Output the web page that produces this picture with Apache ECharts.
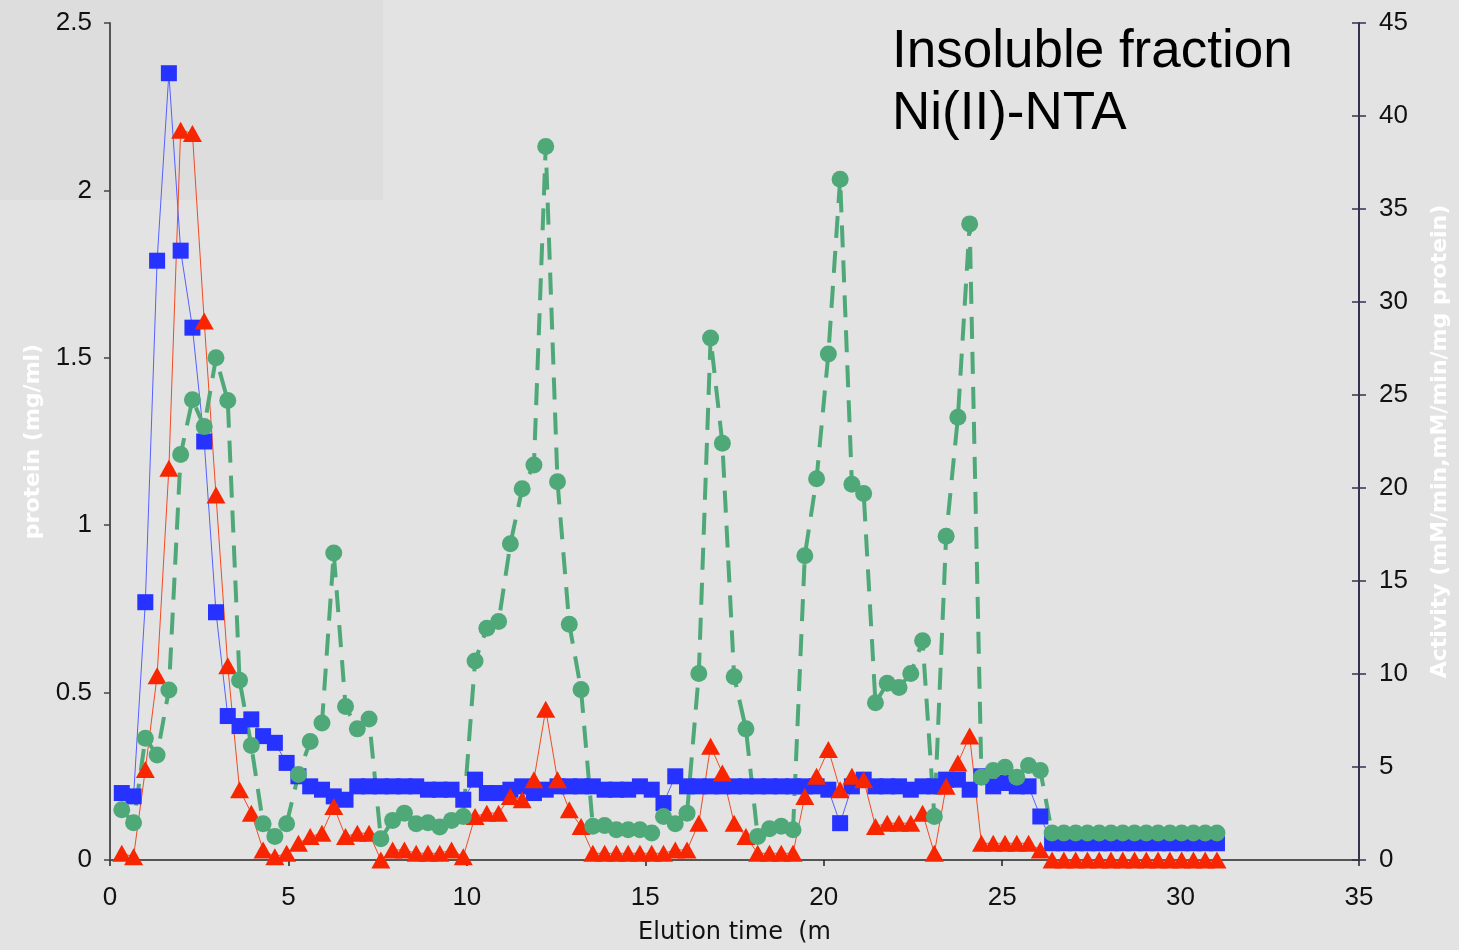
<!DOCTYPE html>
<html>
<head>
<meta charset="utf-8">
<script src="https://cdn.jsdelivr.net/npm/echarts@6/dist/echarts.min.js"></script>
<style>
  html, body { margin: 0; padding: 0; background: #e3e3e3; }
  #chart { width: 1459px; height: 950px; }
</style>
</head>
<body>
<div id="chart"></div>
<script>
// Elution time of each collected fraction (min)
const elutionTime = [
  0.33, 0.66, 0.99, 1.32, 1.65, 1.98, 2.31, 2.64, 2.97, 3.30,
  3.63, 3.96, 4.29, 4.62, 4.95, 5.28, 5.61, 5.94, 6.27, 6.60,
  6.93, 7.26, 7.59, 7.92, 8.25, 8.58, 8.91, 9.24, 9.57, 9.90,
  10.23, 10.56, 10.89, 11.22, 11.55, 11.88, 12.21, 12.54, 12.87, 13.20,
  13.53, 13.86, 14.19, 14.52, 14.85, 15.18, 15.51, 15.84, 16.17, 16.50,
  16.83, 17.16, 17.49, 17.82, 18.15, 18.48, 18.81, 19.14, 19.47, 19.80,
  20.13, 20.46, 20.79, 21.12, 21.45, 21.78, 22.11, 22.44, 22.77, 23.10,
  23.43, 23.76, 24.09, 24.42, 24.75, 25.08, 25.41, 25.74, 26.07, 26.40,
  26.73, 27.06, 27.39, 27.72, 28.05, 28.38, 28.71, 29.04, 29.37, 29.70,
  30.03, 30.36, 30.69, 31.02
];

// Protein, first assay (mg/ml) - blue squares
const proteinA = [
  0.20, 0.19, 0.77, 1.79, 2.35, 1.82, 1.59, 1.25, 0.74, 0.43,
  0.40, 0.42, 0.37, 0.35, 0.29, 0.25, 0.22, 0.21, 0.19, 0.18,
  0.22, 0.22, 0.22, 0.22, 0.22, 0.22, 0.21, 0.21, 0.21, 0.18,
  0.24, 0.20, 0.20, 0.21, 0.22, 0.20, 0.21, 0.22, 0.22, 0.22,
  0.22, 0.21, 0.21, 0.21, 0.22, 0.21, 0.17, 0.25, 0.22, 0.22,
  0.22, 0.22, 0.22, 0.22, 0.22, 0.22, 0.22, 0.22, 0.22, 0.22,
  0.21, 0.11, 0.22, 0.24, 0.22, 0.22, 0.22, 0.21, 0.22, 0.22,
  0.24, 0.24, 0.21, 0.25, 0.22, 0.23, 0.22, 0.22, 0.13, 0.05,
  0.05, 0.05, 0.05, 0.05, 0.05, 0.05, 0.05, 0.05, 0.05, 0.05,
  0.05, 0.05, 0.05, 0.05
];

// Protein, second assay (mg/ml) - red triangles
const proteinB = [
  0.02, 0.01, 0.27, 0.55, 1.17, 2.18, 2.17, 1.61, 1.09, 0.58,
  0.21, 0.14, 0.03, 0.01, 0.02, 0.05, 0.07, 0.08, 0.16, 0.07,
  0.08, 0.08, 0.00, 0.03, 0.03, 0.02, 0.02, 0.02, 0.03, 0.01,
  0.13, 0.14, 0.14, 0.19, 0.18, 0.24, 0.45, 0.24, 0.15, 0.10,
  0.02, 0.02, 0.02, 0.02, 0.02, 0.02, 0.02, 0.03, 0.03, 0.11,
  0.34, 0.26, 0.11, 0.07, 0.02, 0.02, 0.02, 0.02, 0.19, 0.25,
  0.33, 0.21, 0.25, 0.24, 0.10, 0.11, 0.11, 0.11, 0.14, 0.02,
  0.22, 0.29, 0.37, 0.05, 0.05, 0.05, 0.05, 0.05, 0.03, 0.00,
  0.00, 0.00, 0.00, 0.00, 0.00, 0.00, 0.00, 0.00, 0.00, 0.00,
  0.00, 0.00, 0.00, 0.00
];

// Enzyme activity (mM/min) - green circles, right axis
const activity = [
  2.70, 2.00, 6.55, 5.65, 9.14, 21.8, 24.75, 23.3, 27.0, 24.7,
  9.67, 6.15, 1.95, 1.27, 1.95, 4.60, 6.37, 7.37, 16.5, 8.25,
  7.05, 7.58, 1.14, 2.13, 2.52, 1.95, 2.00, 1.77, 2.13, 2.34,
  10.7, 12.46, 12.82, 17.0, 19.96, 21.24, 38.36, 20.33, 12.68, 9.16,
  1.81, 1.86, 1.63, 1.63, 1.63, 1.45, 2.34, 1.95, 2.52, 10.03,
  28.06, 22.4, 9.85, 7.05, 1.27, 1.68, 1.81, 1.63, 16.36, 20.5,
  27.2, 36.6, 20.2, 19.7, 8.45, 9.5, 9.28, 10.03, 11.79, 2.34,
  17.4, 23.8, 34.2, 4.45, 4.81, 4.99, 4.45, 5.08, 4.81, 1.45,
  1.45, 1.45, 1.45, 1.45, 1.45, 1.45, 1.45, 1.45, 1.45, 1.45,
  1.45, 1.45, 1.45, 1.45
];

const titleLines = ['Insoluble fraction', 'Ni(II)-NTA'];
const xAxisName = 'Elution time  (m';
const leftAxisName = 'protein (mg/ml)';
const rightAxisName = 'Activity (mM/min,mM/min/mg protein)';

const pairs = (ys) => elutionTime.map((t, i) => [t, ys[i]]);

const tickFont = { fontFamily: 'Liberation Sans', fontSize: 26, color: '#111' };
const nameFont = { fontFamily: 'DejaVu Sans', fontWeight: 'bold', fontSize: 22, color: '#ffffff' };

const chart = echarts.init(document.getElementById('chart'), null, { renderer: 'canvas' });

chart.setOption({
  animation: false,
  backgroundColor: '#e3e3e3',
  title: {
    text: titleLines.join('\n'),
    left: 887,
    top: 16,
    textStyle: { fontFamily: 'Liberation Sans', fontWeight: 'normal', fontSize: 53, lineHeight: 62, color: '#000' }
  },
  graphic: [{
    type: 'rect',
    z: -100,
    silent: true,
    shape: { x: 0, y: 0, width: 383, height: 200 },
    style: { fill: '#dddddd' }
  }],
  grid: { left: 110, right: 97, top: 23, bottom: 87, containLabel: false },
  xAxis: {
    type: 'value',
    min: 0, max: 35, interval: 5,
    name: xAxisName,
    nameLocation: 'middle',
    nameGap: 61,
    nameTextStyle: { fontFamily: 'DejaVu Sans', fontSize: 24, color: '#111' },
    axisLine: { lineStyle: { color: '#555', width: 2 } },
    axisTick: { length: 6, lineStyle: { color: '#222', width: 1.5 } },
    axisLabel: Object.assign({ margin: 25 }, tickFont),
    splitLine: { show: false }
  },
  yAxis: [
    {
      type: 'value',
      position: 'left',
      min: 0, max: 2.5, interval: 0.5,
      name: leftAxisName,
      nameLocation: 'middle',
      nameRotate: 90,
      nameGap: 66,
      nameTextStyle: nameFont,
      axisLine: { show: true, lineStyle: { color: '#555', width: 2 } },
      axisTick: { show: true, length: 6, lineStyle: { color: '#444', width: 1.5 } },
      axisLabel: Object.assign({ margin: 18 }, tickFont),
      splitLine: { show: false }
    },
    {
      type: 'value',
      position: 'right',
      min: 0, max: 45, interval: 5,
      name: rightAxisName,
      nameLocation: 'middle',
      nameRotate: 90,
      nameGap: 70,
      nameTextStyle: nameFont,
      axisLine: { show: true, lineStyle: { color: '#33334d', width: 2 } },
      axisTick: { show: true, length: 7, lineStyle: { color: '#33334d', width: 1.5 } },
      axisLabel: Object.assign({ margin: 20 }, tickFont),
      splitLine: { show: false }
    },
    {
      // inner half of the cross ticks on the activity axis
      type: 'value',
      position: 'right',
      min: 0, max: 45, interval: 5,
      axisLine: { show: false },
      axisTick: { show: true, inside: true, length: 7, lineStyle: { color: '#33334d', width: 1.5 } },
      axisLabel: { show: false },
      splitLine: { show: false }
    }
  ],
  series: [
    {
      name: 'Protein A',
      type: 'line',
      yAxisIndex: 0,
      data: pairs(proteinA),
      symbol: 'rect',
      symbolSize: 16,
      itemStyle: { color: '#2632ff' },
      lineStyle: { color: '#5560ff', width: 1 }
    },
    {
      name: 'Protein B',
      type: 'line',
      yAxisIndex: 0,
      data: pairs(proteinB),
      symbol: 'triangle',
      symbolSize: [19, 17],
      itemStyle: { color: '#f72600' },
      lineStyle: { color: '#f24a22', width: 1 }
    },
    {
      name: 'Activity',
      type: 'line',
      yAxisIndex: 1,
      data: pairs(activity),
      symbol: 'circle',
      symbolSize: 17,
      itemStyle: { color: '#4fa878' },
      lineStyle: { color: '#4fa878', width: 4, type: [22, 13] }
    }
  ]
});
</script>
</body>
</html>
